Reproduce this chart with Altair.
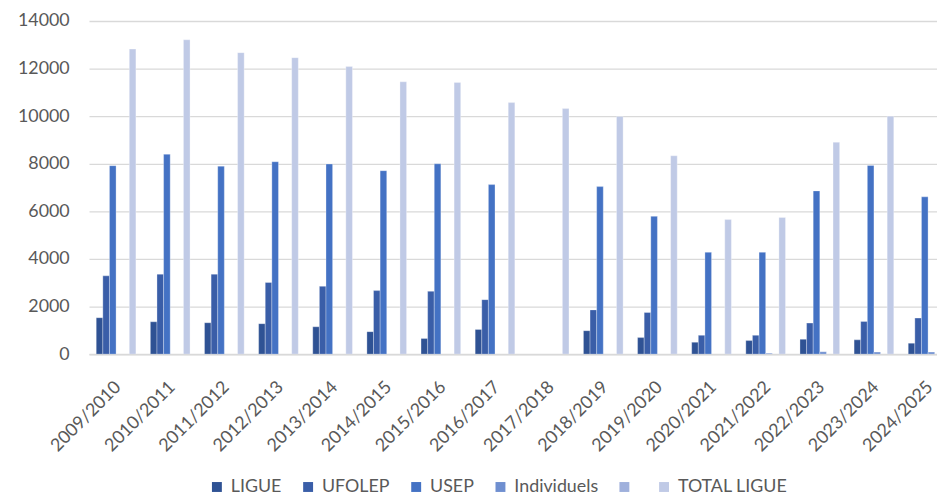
import altair as alt
import pandas as pd

seasons = ["2009/2010", "2010/2011", "2011/2012", "2012/2013", "2013/2014",
           "2014/2015", "2015/2016", "2016/2017", "2017/2018", "2018/2019",
           "2019/2020", "2020/2021", "2021/2022", "2022/2023", "2023/2024",
           "2024/2025"]

series_names = ["LIGUE", "UFOLEP", "USEP", "Individuels", "_blank", "TOTAL LIGUE"]
series_colors = ["#2f5294", "#3a5ea8", "#4472c4", "#6f8fd0", "#9fb0dc", "#c0cae6"]

ligue = [1530, 1360, 1320, 1280, 1150, 945, 655, 1040, None, 985, 695, 500, 570, 625, 600, 460]
ufolep = [3290, 3360, 3360, 3010, 2850, 2670, 2640, 2290, None, 1860, 1750, 790, 790, 1305, 1375, 1515]
usep = [7920, 8400, 7900, 8085, 7990, 7710, 8000, 7125, None, 7040, 5790, 4280, 4280, 6860, 7930, 6610]
individuels = [None, None, None, None, None, None, None, None, None, None, None, None, 40, 100, 85, 85]
blank = [None] * 16
total_ligue = [12820, 13210, 12670, 12460, 12085, 11445, 11420, 10570, 10320, 9985, 8335, 5655, 5740, 8905, 10000, 8860]

y_ticks = [0, 2000, 4000, 6000, 8000, 10000, 12000, 14000]

all_series = [ligue, ufolep, usep, individuels, blank, total_ligue]
rows = []
for name, vals in zip(series_names, all_series):
    for s, v in zip(seasons, vals):
        if v is not None:
            rows.append({"season": s, "series": name, "value": v})
df = pd.DataFrame(rows)

text_color = "#595959"
grid_color = "#d9d9d9"

chart = alt.Chart(df).mark_bar(
    stroke="white", strokeWidth=0.6, strokeOpacity=0.5, clip=True
).encode(
    x=alt.X("season:N", sort=seasons,
            scale=alt.Scale(domain=seasons, range=[0, 873.6],
                            paddingInner=0.267, paddingOuter=0.1335),
            axis=alt.Axis(title=None, labelAngle=-45, labelFontSize=18,
                          labelColor=text_color, ticks=False, domain=True,
                          domainColor=grid_color, domainWidth=2,
                          labelPadding=24, labelOffset=-4, grid=False)),
    xOffset=alt.XOffset("series:N", sort=series_names,
                        scale=alt.Scale(domain=series_names, paddingInner=0, paddingOuter=0)),
    y=alt.Y("value:Q",
            scale=alt.Scale(domain=[0, 14000], nice=False),
            axis=alt.Axis(title=None, values=y_ticks, format="d", labelFontSize=18,
                          labelColor=text_color, ticks=False, domain=False,
                          gridColor=grid_color, gridWidth=1.3, labelPadding=20)),
    color=alt.Color("series:N", sort=series_names,
                    scale=alt.Scale(domain=series_names, range=series_colors),
                    legend=alt.Legend(title=None, orient="none", legendX=120, legendY=461,
                                      direction="horizontal", symbolType="square",
                                      symbolSize=100, symbolStrokeWidth=0,
                                      labelFontSize=18, labelColor=text_color,
                                      columnPadding=17, labelOffset=5,
                                      labelExpr="datum.label == '_blank' ? '' : datum.label")),
).properties(
    width=855.3,
    height=336,
    autosize=alt.AutoSizeParams(type="none"),
    padding={"left": 81.7, "top": 11, "right": 0, "bottom": 145},
).configure(
    font="Lato",
).configure_view(
    stroke=None,
)

chart.save("out.html", embed_options={"renderer": "svg", "actions": False})
